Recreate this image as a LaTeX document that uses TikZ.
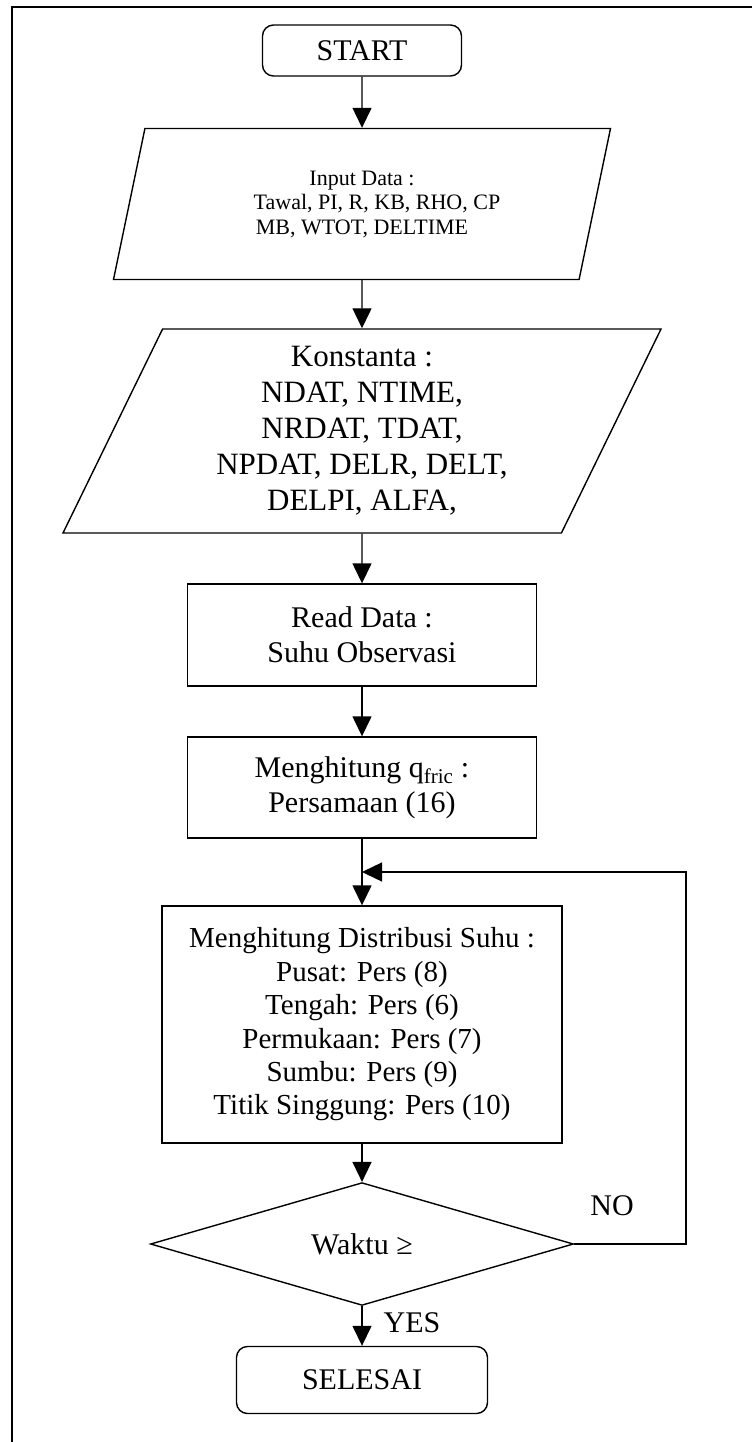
\documentclass[tikz,border=0pt]{standalone}
\usepackage{fontspec}
\setmainfont{Liberation Serif}
\usetikzlibrary{arrows.meta,shapes.geometric}

\begin{document}
\begin{tikzpicture}[x=1pt,y=-1pt,line width=1.4pt,
  arr/.style={-{Triangle[length=20pt,width=19pt]}},
  term/.style={draw,rectangle,rounded corners=11pt,inner sep=0pt},
  io/.style={draw,trapezium,trapezium stretches body,inner sep=0pt,align=center},
  proc/.style={draw,rectangle,inner sep=0pt,align=center},
  txt/.style={font=\fontsize{30}{35}\selectfont}]
\useasboundingbox (0,0) rectangle (752,1442);
% outer frame (only top and left edges fall inside the page)
\draw[line width=1.2pt] (752,7) -- (12,7) -- (12,1442);

\node[term,txt,minimum width=199pt,minimum height=51pt] (start) at (362,50.5) {START};
\node[io,font=\fontsize{22}{24.5}\selectfont,trapezium left angle=64.8,trapezium right angle=115.2,
  minimum width=497pt,minimum height=151pt] (input) at (362,204)
  {Input Data :\\ \hspace*{30pt}Tawal, PI, R, KB, RHO, CP\\ MB, WTOT, DELTIME};
\node[io,font=\fontsize{31}{36}\selectfont,trapezium left angle=59.5,trapezium right angle=120.5,
  minimum width=598pt,minimum height=204pt] (konst) at (362,431)
  {Konstanta :\\ NDAT, NTIME,\\ NRDAT, TDAT,\\ NPDAT, DELR, DELT,\\ DELPI, ALFA,};
\node[proc,txt,minimum width=349pt,minimum height=102pt] (read) at (362,635)
  {Read Data :\\ Suhu Observasi};
\node[proc,txt,minimum width=349pt,minimum height=101pt] (fric) at (362,787.5)
  {Menghitung q\textsubscript{fric} :\\ Persamaan (16)};
\node[proc,font=\fontsize{29}{33.4}\selectfont,minimum width=400pt,minimum height=237pt] (dist) at (362,1024.5)
  {Menghitung Distribusi Suhu :\\ Pusat: Pers (8)\\ Tengah: Pers (6)\\ Permukaan: Pers (7)\\ Sumbu: Pers (9)\\ Titik Singgung: Pers (10)};
\node[draw,diamond,txt,inner sep=0pt,minimum width=423pt,minimum height=102pt] (cek) at (362,1244) {Waktu ≥};
\node[term,txt,minimum width=251pt,minimum height=67pt] (selesai) at (362,1380) {SELESAI};

\coordinate (loopR) at (686,1244);
\coordinate (loopT) at (686,872);
\coordinate (join) at (362,872);

\draw[arr] (start) -- (input);
\draw[arr] (input) -- (konst);
\draw[arr] (konst) -- (read);
\draw[arr] (read) -- (fric);
\draw[arr] (fric) -- (dist);
\draw[arr] (dist) -- (cek);
\draw[arr] (cek) -- (selesai);
\draw[arr] (cek.east) -- (loopR) -- (loopT) -- (join);

\node[txt] (yes) at (412,1323) {YES};
\node[txt] (no) at (612,1206) {NO};
\end{tikzpicture}
\end{document}
